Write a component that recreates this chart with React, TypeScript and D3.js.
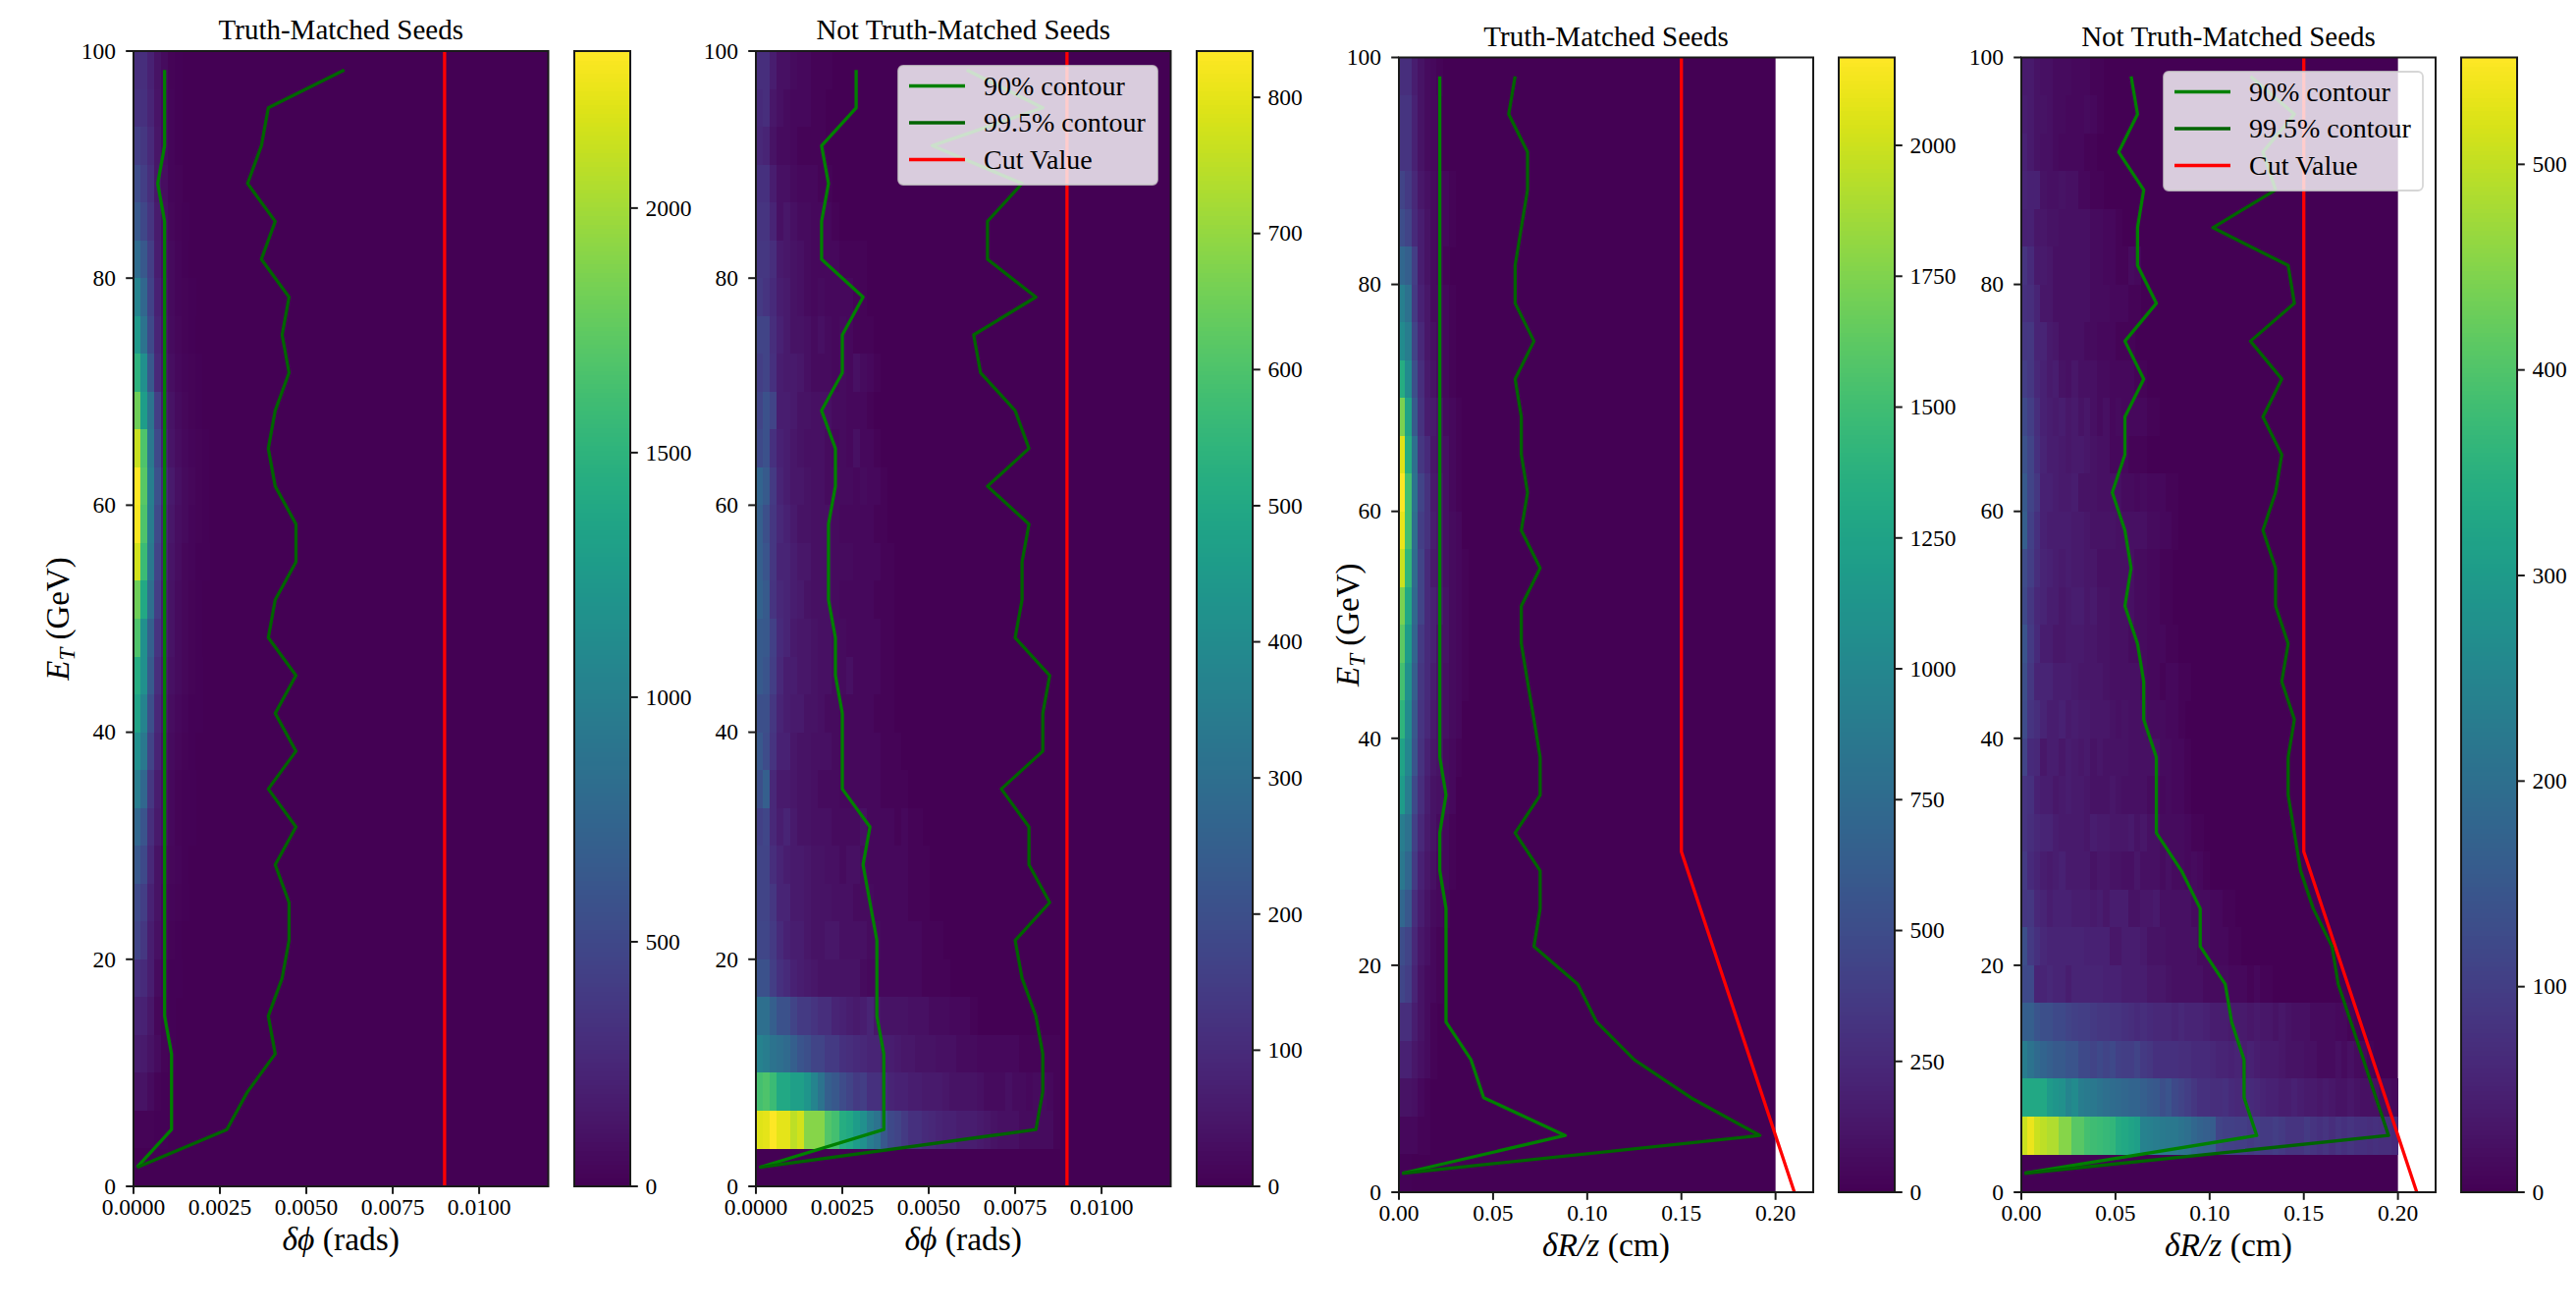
import React from "react";
import * as d3 from "d3";

const FONT = "'Liberation Serif', serif";
const ROW_COUNT = 30;
const COL_COUNT = 60;
const ET_MAX = 100;
const ET_TICKS = [0, 20, 40, 60, 80, 100];
const PHI_TICKS = [0, 0.0025, 0.005, 0.0075, 0.01];
const RZ_TICKS = [0, 0.05, 0.1, 0.15, 0.2];
const PHI_CUT_E = [0, 100];
const PHI_CUT_V = [0.009, 0.009];
const RZ_CUT_E = [0, 30, 100];
const RZ_CUT_V = [0.21, 0.15, 0.15];

const PHI_T_90 = [.0009,.0009,.0009,.0007,.0009,.0009,.0009,.0009,.0009,.0009,.0009,.0009,.0009,.0009,.0009,.0009,.0009,.0009,.0009,.0009,.0009,.0009,.0009,.0009,.0009,.0009,.0011,.0011,.0011,.0001];
const PHI_T_995 = [.0061,.0039,.0037,.0033,.0041,.0037,.0045,.0043,.0045,.0041,.0039,.0041,.0047,.0047,.0041,.0039,.0047,.0041,.0047,.0039,.0047,.0041,.0045,.0045,.0043,.0039,.0041,.0033,.0027,.0001];
const PHI_N_90 = [.0029,.0029,.0019,.0021,.0019,.0019,.0031,.0025,.0025,.0019,.0023,.0023,.0021,.0021,.0021,.0023,.0023,.0025,.0025,.0025,.0033,.0031,.0033,.0035,.0035,.0035,.0037,.0037,.0037,.0001];
const PHI_N_995 = [.0061,.0083,.0051,.0077,.0067,.0067,.0081,.0063,.0065,.0075,.0079,.0067,.0079,.0077,.0077,.0075,.0085,.0083,.0083,.0071,.0079,.0079,.0085,.0075,.0077,.0081,.0083,.0083,.0081,.0001];
const RZ_T_90 = [.0217,.0217,.0217,.0217,.0217,.0217,.0217,.0217,.0217,.0217,.0217,.0217,.0217,.0217,.0217,.0217,.0217,.0217,.0217,.025,.0217,.0217,.025,.025,.025,.025,.0383,.045,.0883,.0017];
const RZ_T_995 = [.0617,.0583,.0683,.0683,.065,.0617,.0617,.0717,.0617,.065,.065,.0683,.065,.075,.065,.065,.0683,.0717,.075,.075,.0617,.075,.075,.0717,.095,.105,.125,.155,.1917,.0017];
const RZ_N_90 = [.0583,.0617,.0517,.065,.0617,.0617,.0717,.055,.065,.055,.055,.0483,.055,.0583,.055,.0617,.065,.065,.0717,.0717,.0717,.085,.095,.095,.1083,.1117,.1183,.1183,.125,.0017];
const RZ_N_995 = [.1217,.145,.1283,.135,.1017,.1417,.145,.1217,.1383,.1283,.1383,.135,.1283,.135,.135,.1417,.1383,.145,.1417,.1417,.145,.1483,.155,.165,.1683,.175,.1817,.1883,.195,.0017];

// Heat cells, rows listed from the top of the plot; columns start at the left edge.
const HEAT_PHI_T = [
  [300,300,210,115,70,25,10],
  [330,320,230,120,70,30,10],
  [420,370,270,130,70,35,15],
  [530,420,300,140,75,35,20],
  [630,490,350,165,85,45,25,10],
  [810,630,420,190,95,55,30,15,5],
  [1040,770,460,210,110,60,35,20,10],
  [1250,880,510,240,120,70,40,25,15,5],
  [1490,1160,630,270,140,85,50,30,20,10,5],
  [1810,1280,880,420,180,110,65,40,25,15,8],
  [2130,1670,930,510,210,125,80,50,30,20,10,5],
  [2321,1720,980,580,255,160,95,60,40,25,15,8],
  [2300,1670,970,520,230,140,85,55,35,20,12,5],
  [2160,1580,930,470,220,125,75,45,30,18,10],
  [1810,1390,840,420,190,115,70,40,25,15,8],
  [1670,1160,700,350,185,115,70,45,25,15,8],
  [1440,1160,650,300,160,95,70,40,25,12],
  [1350,1040,560,255,140,75,50,30,18,10],
  [1160,930,465,230,115,70,45,25,15,8],
  [975,770,370,185,95,50,25,15,10],
  [770,600,300,160,95,50,25,15,10],
  [630,510,255,115,70,45,30,15,8],
  [510,420,210,115,50,30,20,10],
  [465,370,185,95,50,25,15,8],
  [325,280,185,70,35,15,10],
  [230,210,140,45,20,10],
  [185,160,115,70,25,10],
  [115,115,70,25,10,5],
  [25,25,20,15,10,5],
  [5,5,3],
];

const HEAT_RZ_T = [
  [280,280,175,110,65,45,20],
  [325,325,195,110,65,45],
  [325,325,195,110,65,45],
  [435,370,240,130,85,65,45,45,20],
  [500,435,260,175,110,65,45,45,20],
  [715,650,390,175,110,65,45,20],
  [930,800,370,195,130,65,65,45,20],
  [1040,910,435,240,130,85,65,45,20],
  [1345,1040,520,280,150,110,65,45,20],
  [1735,1260,605,305,175,150,110,65,45,20],
  [2060,1345,780,345,260,130,110,85,45,20],
  [2168,1520,825,435,305,150,130,85,45,20],
  [2100,1520,780,390,305,175,130,85,65,45],
  [1995,1430,760,435,260,150,130,85,65,45,20],
  [1735,1300,735,435,260,195,150,110,65,45,20],
  [1625,1190,695,370,260,195,110,110,65,45,20],
  [1520,1085,650,345,260,175,110,85,65,45,20],
  [1410,1040,585,325,240,150,110,85,65,45],
  [1260,995,565,305,195,130,110,65,45,20],
  [1190,910,475,280,175,110,85,65,45],
  [910,800,410,240,150,110,65,45,20],
  [865,715,370,195,130,85,45,45,20],
  [715,585,280,175,110,65,45,20],
  [500,435,240,130,85,45,20],
  [455,390,215,110,65,45,20],
  [280,280,175,110,65,20],
  [195,195,130,85,65,20],
  [110,110,85,45,20],
  [45,45,45,20,20],
  [10,10,5],
];

// These two are read as percent of the colour bar's top.
const HEAT_PHI_N_PCT = [
  [13,13,8,4,4,3,2,2,1,1,1],
  [12,13,6,4,3,2,2,2,1,1],
  [11,10,5,3,3,2,1,1,1,1],
  [14,14,8,4,4,3,2,2,2,1,1],
  [15,15,10,4,6,4,3,3,2,2,2,1],
  [16,16,13,7,6,5,4,3,2,2,2,2,1,1,1,1],
  [17,15,12,8,7,5,4,3,2,3,2,2,2,2,1,1],
  [20,20,13,9,7,5,5,4,3,4,3,2,3,2,1,1,1],
  [18,20,14,8,7,7,6,4,3,3,3,2,3,2,4,3,2,1],
  [20,25,20,8,8,7,5,5,4,4,4,3,3,2,2,2,1],
  [22,25,14,9,8,6,5,4,4,4,3,2,3,2,4,2,2,1],
  [32,28,17,10,8,6,6,5,4,4,3,3,3,3,2,3,2,2,1],
  [30,24,16,11,9,7,5,5,4,4,4,3,2,2,2,2,2,1,1],
  [30,26,16,10,10,8,6,6,4,4,4,3,3,3,2,2,2,2,1,1],
  [31,28,15,11,10,8,7,5,4,4,4,3,2,2,2,2,2,1,1,1],
  [28,27,19,12,10,7,6,6,5,4,4,3,3,2,2,2,2,2,1,1],
  [28,26,18,11,8,8,6,6,5,4,4,3,3,4,2,2,2,2,1,1],
  [24,24,16,10,8,7,7,5,5,4,3,3,2,2,2,2,2,1,1,1],
  [27,23,15,9,9,6,5,5,4,4,4,3,2,2,2,2,2,2,1,1,1],
  [24,30,11,7,7,6,5,5,4,3,3,3,2,2,2,2,2,2,1,1,1,1],
  [19,21,11,8,10,7,5,5,4,4,4,3,3,3,3,4,2,2,2,2,1,2,1,1],
  [20,20,13,10,8,7,7,6,5,5,4,4,3,4,4,3,2,2,2,2,2,2,1,1,1],
  [20,20,16,10,10,7,7,6,5,5,5,4,4,4,3,3,3,2,2,2,2,2,1,1,1],
  [21,21,17,12,9,8,8,6,5,5,6,6,4,4,4,4,3,3,2,2,2,2,2,2,1,1,1],
  [25,25,18,14,12,9,8,7,6,5,5,5,5,5,5,3,2,2,2,2,2,2,2,2,1,1,1,1],
  [36,36,30,25,25,20,17,17,15,13,13,10,9,8,7,8,10,6,5,5,5,5,4,4,4,3,3,3,2,2,2,1],
  [44,42,38,36,34,30,26,24,20,20,17,17,14,13,12,11,10,10,8,8,7,6,6,5,5,5,4,4,4,3,3,3,2,2,2,2,2,2,1,1,1,1,1,1],
  [70,72,68,60,60,56,56,52,45,38,30,27,23,20,17,18,14,14,12,10,9,9,8,8,7,7,7,6,5,5,5,5,4,3,3,3,4,3,3,2,3,3,2,1],
  [95,96,100,96,96,90,93,82,82,82,73,70,62,60,55,50,42,38,27,22,20,17,14,14,12,11,10,9,9,8,8,8,7,6,5,4,4,4,3,3,3,3,3,1],
  [],
];

const HEAT_RZ_N_PCT = [
  [7,7,5,4,4,3,3,3,2,2,2,1,1],
  [8,7,5,5,4,3,3,2,2,2,3,2,1],
  [9,7,5,4,4,3,2,2,2,2,1,1],
  [10,9,9,5,4,4,5,4,4,2,2,1,1],
  [9,9,6,6,5,5,4,4,4,4,4,3,3,2,2,1],
  [15,12,7,7,6,4,4,4,4,4,4,3,3,2,2,1,1,3,2],
  [14,13,10,6,6,4,4,4,4,4,4,3,3,3,2,2,2,1,1],
  [16,16,10,10,7,6,4,4,4,4,3,3,2,2,2,1,1,1],
  [18,16,11,9,7,8,5,4,6,4,4,4,3,3,2,2,2,2,1,1],
  [22,18,13,9,8,7,8,6,7,5,6,4,3,4,2,3,2,2,2,2,1,1],
  [25,20,14,10,8,8,7,6,7,7,6,5,4,4,2,2,2,1,1,1],
  [28,20,16,9,9,8,7,7,8,5,5,5,4,4,4,4,3,3,2,3,2,2,2,1,1],
  [30,19,14,9,8,8,8,8,7,7,6,5,5,5,5,4,4,4,4,4,3,3,2,2,1],
  [23,18,13,10,9,8,7,8,7,7,6,6,4,4,4,4,4,4,3,3,2,2,1,1],
  [22,16,11,10,8,8,6,7,8,8,6,7,5,5,4,4,4,4,3,3,2,2,1,1],
  [26,17,12,8,8,6,6,7,7,7,6,6,5,5,4,4,4,3,3,3,2,2,2,1,1],
  [24,16,10,10,10,8,8,8,7,6,6,6,6,5,4,4,4,4,4,3,2,2,1,2,2,1,1],
  [23,15,13,10,8,8,9,7,8,7,7,6,6,6,5,4,5,4,4,4,3,3,3,2,2,1],
  [20,12,11,6,8,8,6,8,7,6,7,5,6,5,5,5,5,4,4,4,4,4,3,3,2,2,1],
  [15,14,9,8,8,6,7,8,7,7,6,5,5,5,6,5,4,4,4,4,3,3,2,3,2,2,1],
  [15,13,11,10,10,8,7,7,7,7,6,8,7,7,6,6,6,7,5,6,4,4,3,3,3,3,2,1,1],
  [17,12,10,8,7,8,9,7,7,7,7,5,6,6,5,5,4,4,6,4,4,4,3,4,3,3,2,3,2,1],
  [16,16,11,10,8,9,9,9,8,8,8,7,8,6,8,8,8,5,5,6,6,7,4,4,4,4,4,3,3,3,2,2,1,1],
  [24,17,14,11,10,10,10,10,10,10,9,9,9,9,6,6,8,8,8,7,5,5,5,4,4,4,4,4,3,3,2,2,2,1,1],
  [22,22,10,10,11,10,10,8,10,10,10,10,10,9,9,9,8,8,8,8,6,6,6,5,4,4,4,4,4,3,3,3,3,2,2,2,1,2,1,1],
  [30,30,26,24,24,22,22,20,19,18,18,17,16,16,15,15,14,13,12,13,12,11,11,11,10,11,10,10,10,9,8,8,8,7,7,7,6,7,6,6,5,6,5,4,4,4,3,3,3,3,2,2,1],
  [42,38,34,32,30,28,28,26,26,22,22,20,22,20,22,19,18,18,20,17,16,14,14,14,14,13,13,12,12,12,11,10,10,9,10,8,9,8,7,7,7,6,5,5,5,4,4,3,3,3,4,3,4,3,2,1],
  [60,60,60,60,54,52,50,45,48,42,41,40,38,36,35,34,33,32,32,30,28,27,24,26,22,20,18,16,14,14,13,13,14,12,11,11,12,11,10,9,9,8,8,9,8,7,7,6,7,6,5,5,6,5,4,4,4,3,3,2],
  [92,97,92,90,88,88,82,82,74,74,70,69,68,67,66,61,60,58,56,44,43,42,41,40,40,38,36,33,31,30,29,20,19,19,18,18,17,18,17,17,18,17,15,15,15,17,15,14,15,13,15,14,15,14,14,13,14,13,13,12],
  [],
];

const CB_TICKS_PHI_T = [0, 500, 1000, 1500, 2000];
const CB_TICKS_PHI_N = [0, 100, 200, 300, 400, 500, 600, 700, 800];
const CB_TICKS_RZ_T = [0, 250, 500, 750, 1000, 1250, 1500, 1750, 2000];
const CB_TICKS_RZ_N = [0, 100, 200, 300, 400, 500];

const LEGEND_LABELS = ["90% contour", "99.5% contour", "Cut Value"];
const LEGEND_COLORS = ["#008000", "#006400", "#ff0000"];

const pctToCount = (rows: number[][], top: number) => rows.map((r) => r.map((p) => (p / 100) * top));

const PANELS = [
  { id: "a", x0: 136, x1: 558.5, y0: 52, y1: 1208, cb0: 585, cb1: 642, xMax: 0.012, binMax: 0.012, title: "Truth-Matched Seeds", kind: "phi", heat: HEAT_PHI_T, top: 2321, c90: PHI_T_90, c995: PHI_T_995, cbTicks: CB_TICKS_PHI_T, legend: null, ylabelX: 70 },
  { id: "b", x0: 770, x1: 1192.5, y0: 52, y1: 1208, cb0: 1219, cb1: 1276, xMax: 0.012, binMax: 0.012, title: "Not Truth-Matched Seeds", kind: "phi", heat: pctToCount(HEAT_PHI_N_PCT, 834), top: 834, c90: PHI_N_90, c995: PHI_N_995, cbTicks: CB_TICKS_PHI_N, legend: { x: 915, y: 67, w: 264, h: 121 }, ylabelX: null },
  { id: "c", x0: 1425, x1: 1847, y0: 58.5, y1: 1214, cb0: 1873, cb1: 1930, xMax: 0.22, binMax: 0.2, title: "Truth-Matched Seeds", kind: "rz", heat: HEAT_RZ_T, top: 2168, c90: RZ_T_90, c995: RZ_T_995, cbTicks: CB_TICKS_RZ_T, legend: null, ylabelX: 1384 },
  { id: "d", x0: 2059, x1: 2481, y0: 58.5, y1: 1214, cb0: 2507, cb1: 2564, xMax: 0.22, binMax: 0.2, title: "Not Truth-Matched Seeds", kind: "rz", heat: pctToCount(HEAT_RZ_N_PCT, 552), top: 552, c90: RZ_N_90, c995: RZ_N_995, cbTicks: CB_TICKS_RZ_N, legend: { x: 2204, y: 73, w: 264, h: 121 }, ylabelX: null },
];

const INK = "#1a1a1a";

function Panel({ p }: { p: (typeof PANELS)[number] }) {
  const x = d3.scaleLinear().domain([0, p.xMax]).range([p.x0, p.x1]);
  const y = d3.scaleLinear().domain([0, ET_MAX]).range([p.y1, p.y0]);
  const color = d3.scaleSequential(d3.interpolateViridis).domain([0, p.top]);
  const cbY = d3.scaleLinear().domain([0, p.top]).range([p.y1, p.y0]);
  const binW = p.binMax / COL_COUNT;
  const rowH = ET_MAX / ROW_COUNT;
  const centers = d3.range(ROW_COUNT).map((i) => ET_MAX - (i + 0.5) * rowH);
  const contour = d3.line<number>().x((d) => x(d)).y((_, i) => y(centers[i]));
  const isPhi = p.kind === "phi";
  const xTicks = isPhi ? PHI_TICKS : RZ_TICKS;
  const fmt = d3.format(isPhi ? ".4f" : ".2f");
  const cutE = isPhi ? PHI_CUT_E : RZ_CUT_E;
  const cutV = isPhi ? PHI_CUT_V : RZ_CUT_V;
  const cut = d3.line<number>().x((d) => x(d)).y((_, i) => y(cutE[i]));
  const cbSteps = d3.range(256);
  const cx = (p.x0 + p.x1) / 2;
  const cy = (p.y0 + p.y1) / 2;

  return (
    <g>
      <clipPath id={`clip-${p.id}`}>
        <rect x={p.x0} y={p.y0} width={p.x1 - p.x0} height={p.y1 - p.y0} />
      </clipPath>
      <rect x={x(0)} y={p.y0} width={x(p.binMax) - x(0)} height={p.y1 - p.y0} fill={color(0)} />
      <g shapeRendering="crispEdges">
        {p.heat.map((row, r) =>
          row.map((v, c) => (
            <rect
              key={`${r}-${c}`}
              x={x(c * binW)}
              y={y(ET_MAX - r * rowH)}
              width={x((c + 1) * binW) - x(c * binW) + 0.5}
              height={y(ET_MAX - (r + 1) * rowH) - y(ET_MAX - r * rowH) + 0.5}
              fill={color(v)}
            />
          ))
        )}
      </g>
      <g clipPath={`url(#clip-${p.id})`} fill="none" strokeWidth={3.3} strokeLinejoin="round">
        <path d={cut(cutV) ?? ""} stroke="#ff0000" />
        <path d={contour(p.c90) ?? ""} stroke="#008000" />
        <path d={contour(p.c995) ?? ""} stroke="#006400" />
      </g>
      <rect x={p.x0} y={p.y0} width={p.x1 - p.x0} height={p.y1 - p.y0} fill="none" stroke={INK} strokeWidth={2} />
      {ET_TICKS.map((t) => (
        <g key={t}>
          <line x1={p.x0 - 7.8} x2={p.x0} y1={y(t)} y2={y(t)} stroke={INK} strokeWidth={2} />
          <text x={p.x0 - 18} y={y(t)} dy="0.33em" textAnchor="end" fontFamily={FONT} fontSize={23.5} fill="#000">{t}</text>
        </g>
      ))}
      {xTicks.map((t) => (
        <g key={t}>
          <line x1={x(t)} x2={x(t)} y1={p.y1} y2={p.y1 + 7.8} stroke={INK} strokeWidth={2} />
          <text x={x(t)} y={p.y1 + 29} textAnchor="middle" fontFamily={FONT} fontSize={23.5} fill="#000">{fmt(t)}</text>
        </g>
      ))}
      <text x={cx} y={p.y0 - 12} textAnchor="middle" fontFamily={FONT} fontSize={29} fill="#000">{p.title}</text>
      <text x={cx} y={p.y1 + 65} textAnchor="middle" fontFamily={FONT} fontSize={33.5} fill="#000">
        {isPhi ? (
          <>
            <tspan fontStyle="italic">δϕ</tspan> (rads)
          </>
        ) : (
          <>
            <tspan fontStyle="italic">δR/z</tspan> (cm)
          </>
        )}
      </text>
      {p.ylabelX !== null && (
        <text transform={`translate(${p.ylabelX},${cy}) rotate(-90)`} textAnchor="middle" fontFamily={FONT} fontSize={33} fill="#000">
          <tspan fontStyle="italic">E</tspan>
          <tspan fontStyle="italic" fontSize={23} dy={6}>T</tspan>
          <tspan dy={-6}> (GeV)</tspan>
        </text>
      )}
      {p.legend && (
        <g>
          <rect x={p.legend.x} y={p.legend.y} width={p.legend.w} height={p.legend.h} rx={5} ry={5} fill="#ffffff" fillOpacity={0.8} stroke="#cccccc" strokeOpacity={0.8} strokeWidth={1.8} />
          {LEGEND_LABELS.map((l, i) => {
            const ly = p.legend!.y + 20.5 + i * 37.5;
            return (
              <g key={l}>
                <line x1={p.legend!.x + 11} x2={p.legend!.x + 68} y1={ly} y2={ly} stroke={LEGEND_COLORS[i]} strokeWidth={3.3} />
                <text x={p.legend!.x + 87} y={ly} dy="0.33em" fontFamily={FONT} fontSize={28} fill="#000">{l}</text>
              </g>
            );
          })}
        </g>
      )}
      <g shapeRendering="crispEdges">
        {cbSteps.map((s) => (
          <rect
            key={s}
            x={p.cb0}
            y={cbY(((s + 1) / 256) * p.top)}
            width={p.cb1 - p.cb0}
            height={cbY((s / 256) * p.top) - cbY(((s + 1) / 256) * p.top) + 0.6}
            fill={color(((s + 0.5) / 256) * p.top)}
          />
        ))}
      </g>
      <rect x={p.cb0} y={p.y0} width={p.cb1 - p.cb0} height={p.y1 - p.y0} fill="none" stroke={INK} strokeWidth={2} />
      {p.cbTicks.map((t) => (
        <g key={t}>
          <line x1={p.cb1} x2={p.cb1 + 7.8} y1={cbY(t)} y2={cbY(t)} stroke={INK} strokeWidth={2} />
          <text x={p.cb1 + 15.5} y={cbY(t)} dy="0.33em" fontFamily={FONT} fontSize={23.5} fill="#000">{t}</text>
        </g>
      ))}
    </g>
  );
}

export default function App() {
  return (
    <svg
      width={2624}
      height={1338}
      viewBox="0 0 2624 1338"
      style={{ position: "absolute", left: 0, top: 0, display: "block", background: "#fff" }}
    >
      {PANELS.map((p) => (
        <Panel key={p.id} p={p} />
      ))}
    </svg>
  );
}
